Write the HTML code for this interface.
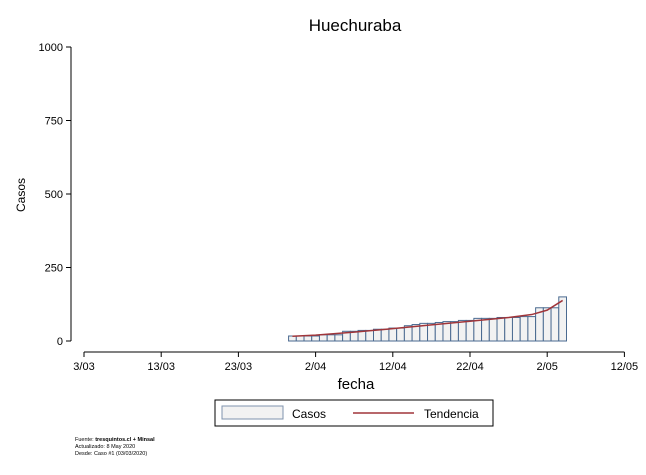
<!DOCTYPE html>
<html><head><meta charset="utf-8"><style>
body{margin:0;background:#fff;font-family:"Liberation Sans",Arial,sans-serif}
svg text{font-family:"Liberation Sans",Arial,sans-serif}
</style></head><body>
<svg id="chart" width="646" height="470" xmlns="http://www.w3.org/2000/svg">
<rect width="646" height="470" fill="#fff"/>
<text x="355" y="31" font-size="17" text-anchor="middle">Huechuraba</text>
<text x="0" y="0" font-size="12" text-anchor="middle" transform="translate(25,195) rotate(-90)">Casos</text>
<text x="356" y="389" font-size="15" text-anchor="middle">fecha</text>
<g id="bars"></g><g id="trend"></g><g id="axes"></g>
<g>
<rect x="215" y="400" width="278" height="26" fill="#fff" stroke="#000" stroke-width="1"/>
<rect x="222" y="406" width="61" height="13" fill="#f2f2f2" stroke="#7f93ad"/>
<text x="292" y="418" font-size="12">Casos</text>
<line x1="353" y1="413" x2="414" y2="413" stroke="#a0353a" stroke-width="1.5"/>
<text x="424" y="418" font-size="12">Tendencia</text>
</g>
<g font-size="5.5">
<text x="75" y="441">Fuente: <tspan font-weight="bold">tresquintos.cl + Minsal</tspan></text>
<text x="75" y="448">Actualizado: 8 May 2020</text>
<text x="75" y="455">Desde: Caso #1  (03/03/2020)</text>
</g>
</svg>
<script>
const xTickLabels=["3/03","13/03","23/03","2/04","12/04","22/04","2/05","12/05"];
const xTickDays=[0,10,20,30,40,50,60,70];
const yTicks=[0,250,500,750,1000];
const barDays=[27,28,29,30,31,32,33,34,35,36,37,38,39,40,41,42,43,44,45,46,47,48,49,50,51,52,53,54,55,56,57,58,59,60,61,62];
const casos=[17,17,17,17,21,21,21,33,33,36,36,40,40,44,44,52,56,60,60,63,66,66,70,70,77,77,77,80,80,80,83,83,113,113,113,150];
const trendDays=[27,30,35,40,45,50,55,58,60,62];
const tendencia=[16,20,30,42,55,67,80,90,105,138];
const NS="http://www.w3.org/2000/svg";
const x=d=>84+d*7.72, y=v=>341-v*0.294;
function mk(t,a,p){const e=document.createElementNS(NS,t);for(const k in a)e.setAttribute(k,a[k]);p.appendChild(e);return e;}
const bars=document.getElementById('bars'),ax=document.getElementById('axes'),tr=document.getElementById('trend');
barDays.forEach((d,i)=>{const r=mk('rect',{x:x(d)-3.86,y:y(casos[i]),width:7.72,height:341-y(casos[i]),fill:'#f2f2f2',stroke:'#4a6a90','stroke-width':1},bars);

});
let pts=trendDays.map((d,i)=>x(d)+','+y(tendencia[i])).join(' ');
const pl=mk('polyline',{points:pts,fill:'none',stroke:'#a0353a','stroke-width':1.5},tr);


const ya=mk('line',{x1:71,y1:y(1000),x2:71,y2:341,stroke:'#000'},ax);


yTicks.forEach(v=>{mk('line',{x1:66,x2:71,y1:y(v),y2:y(v),stroke:'#000'},ax);
const t=mk('text',{x:63,y:y(v)+4,'font-size':11,'text-anchor':'end'},ax);t.textContent=v;

});
const xa=mk('line',{x1:x(0),y1:352,x2:x(70),y2:352,stroke:'#000'},ax);


xTickDays.forEach((d,i)=>{mk('line',{x1:x(d),x2:x(d),y1:352,y2:357,stroke:'#000'},ax);
const t=mk('text',{x:x(d),y:370,'font-size':11,'text-anchor':'middle'},ax);t.textContent=xTickLabels[i];

});
</script>
</body></html>
